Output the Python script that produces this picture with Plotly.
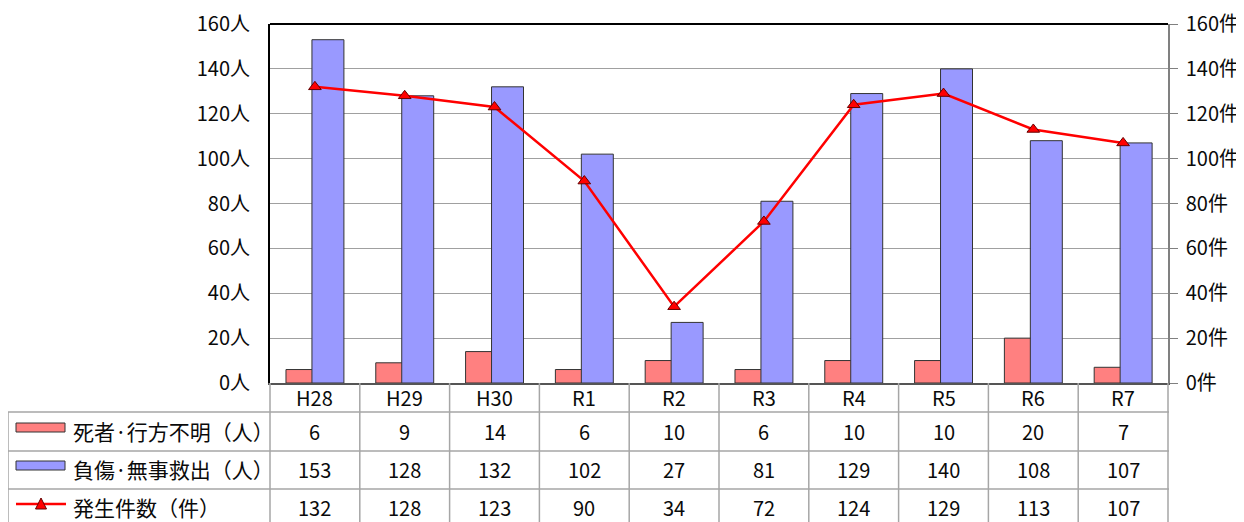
import plotly.graph_objects as go

categories = ["H28", "H29", "H30", "R1", "R2", "R3", "R4", "R5", "R6", "R7"]
deaths_missing = [6, 9, 14, 6, 10, 6, 10, 10, 20, 7]
injured_rescued = [153, 128, 132, 102, 27, 81, 129, 140, 108, 107]
incidents = [132, 128, 123, 90, 34, 72, 124, 129, 113, 107]
y_ticks = [0, 20, 40, 60, 80, 100, 120, 140, 160]
row_labels = ["死者·行方不明（人）", "負傷·無事救出（人）", "発生件数（件）"]

# page body has an 8px default margin; target pixel positions are in window coords
OFF = 8
W, H = 1244 - OFF, 522 - OFF
L, R, T, B = 270, 1168, 24, 383   # window coords of plot area
PW, PH = R - L, B - T
FONT = "Noto Sans CJK JP"
GRID = "#A0A0A0"
TBL = "#A6A6A6"
FS = 20
TXT = "#0A0A0A"


def px(xp):
    return (xp - L) / PW


def py(yp):
    return (B - yp) / PH


fig = go.Figure()
fig.add_trace(go.Bar(x=categories, y=deaths_missing, name=row_labels[0],
                     marker=dict(color="#FF8080", line=dict(color="#333333", width=1)),
                     width=0.356, offset=-0.322))
fig.add_trace(go.Bar(x=categories, y=injured_rescued, name=row_labels[1],
                     marker=dict(color="#9999FF", line=dict(color="#333333", width=1)),
                     width=0.356, offset=-0.033))
fig.add_trace(go.Scatter(x=categories, y=incidents, name=row_labels[2], yaxis="y2",
                         mode="lines+markers",
                         line=dict(color="#FF0000", width=2.5),
                         marker=dict(symbol="triangle-up", size=11, color="#FF0000",
                                     line=dict(color="#660000", width=1))))

shapes = []
# top border
shapes.append(dict(type="line", xref="paper", yref="paper", x0=0, x1=1, y0=1, y1=1,
                   line=dict(color="black", width=2)))
# table horizontal lines
for yp in [412, 451, 489]:
    shapes.append(dict(type="line", xref="paper", yref="paper", x0=px(8), x1=px(1169),
                       y0=py(yp), y1=py(yp), line=dict(color=TBL, width=1.5)))
# left border of label column
shapes.append(dict(type="line", xref="paper", yref="paper", x0=px(8), x1=px(8),
                   y0=py(412), y1=py(530), line=dict(color=TBL, width=1.5)))
# column boundaries
n = len(categories)
for k in range(n + 1):
    xk = k / n
    shapes.append(dict(type="line", xref="paper", yref="paper", x0=xk, x1=xk,
                       y0=0, y1=py(530), line=dict(color=TBL, width=1.5)))
# legend keys
shapes.append(dict(type="rect", xref="paper", yref="paper", x0=px(16), x1=px(65),
                   y0=py(432), y1=py(423), fillcolor="#FF8080",
                   line=dict(color="#333333", width=1)))
shapes.append(dict(type="rect", xref="paper", yref="paper", x0=px(16), x1=px(65),
                   y0=py(470), y1=py(461), fillcolor="#9999FF",
                   line=dict(color="#333333", width=1)))
shapes.append(dict(type="line", xref="paper", yref="paper", x0=px(16), x1=px(66),
                   y0=py(504), y1=py(504), line=dict(color="#FF0000", width=2.5)))
shapes.append(dict(type="path", xref="paper", yref="paper",
                   path=f"M {px(35.5)} {py(509)} L {px(46.5)} {py(509)} L {px(41)} {py(498)} Z",
                   fillcolor="#FF0000", line=dict(color="#660000", width=1)))

annotations = []
row_y = [397, 431, 469, 507]
for c in categories:
    annotations.append(dict(x=c, xref="x", y=py(row_y[0]), yref="paper", text=c,
                            xanchor="center", yanchor="middle",
                            showarrow=False, font=dict(size=FS, color=TXT, family=FONT)))
for r, vals in enumerate([deaths_missing, injured_rescued, incidents]):
    for c, v in zip(categories, vals):
        annotations.append(dict(x=c, xref="x", y=py(row_y[r + 1]), yref="paper", text=str(v),
                                xanchor="center", yanchor="middle",
                                showarrow=False, font=dict(size=FS, color=TXT, family=FONT)))
    annotations.append(dict(x=px(71), xref="paper", xanchor="left", yanchor="middle",
                            y=py(row_y[r + 1]),
                            yref="paper", text=row_labels[r], showarrow=False,
                            font=dict(size=21, color=TXT, family=FONT)))

fig.update_layout(
    width=W, height=H,
    margin=dict(l=L - OFF, r=(1244 - R), t=T - OFF, b=(522 - B), pad=0, autoexpand=False),
    paper_bgcolor="white", plot_bgcolor="white",
    barmode="overlay", showlegend=False,
    font=dict(family=FONT, size=FS, color=TXT),
    xaxis=dict(type="category", range=[-0.5, n - 0.5], showticklabels=False,
               showline=True, linecolor="#555555", linewidth=1.5, ticks="",
               showgrid=False, zeroline=False, automargin=False),
    yaxis=dict(range=[0, 160], tickvals=y_ticks, ticktext=[f"{v}人" for v in y_ticks],
               showline=True, linecolor="black", linewidth=2, ticks="",
               ticklabelstandoff=14, showgrid=True, gridcolor=GRID, gridwidth=1,
               zeroline=False, automargin=False, tickfont=dict(size=FS, family=FONT, color=TXT)),
    yaxis2=dict(range=[0, 160], tickvals=y_ticks, ticktext=[f"{v}件" for v in y_ticks],
                overlaying="y", side="right", showline=True, linecolor="#808080",
                linewidth=1.5, ticks="outside", ticklen=8, tickcolor="#808080",
                ticklabelstandoff=4, showgrid=False, zeroline=False, automargin=False,
                tickfont=dict(size=FS, family=FONT, color=TXT)),
    shapes=shapes, annotations=annotations,
)

fig.write_html("out.html")
